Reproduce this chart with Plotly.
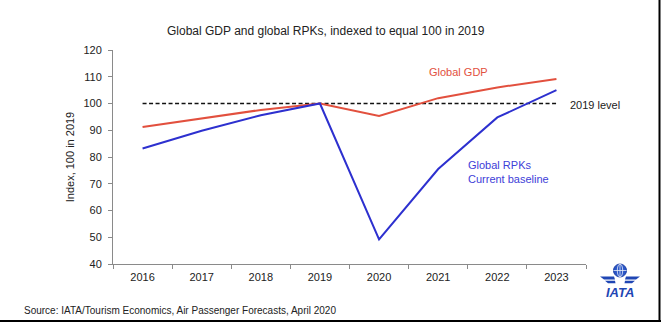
import plotly.graph_objects as go

years = ["2016", "2017", "2018", "2019", "2020", "2021", "2022", "2023"]
gdp = [91.2, 94.5, 97.6, 100.0, 95.3, 102.0, 106.0, 109.2]
rpk = [83.2, 89.8, 95.6, 100.0, 49.2, 75.5, 94.8, 105.0]
level_2019 = [100] * len(years)
y_ticks = [40, 50, 60, 70, 80, 90, 100, 110, 120]

W, H = 661, 323
L, R, T, B = 113, 586, 50, 264

def px(x):
    return (x - L) / (R - L)

def py(y):
    return (B - y) / (B - T)

RED = "#e2503e"
BLUE = "#2d30cf"
FONT = "Liberation Sans, Arial, sans-serif"

fig = go.Figure()
fig.add_trace(go.Scatter(x=years, y=level_2019, mode="lines",
                         line=dict(color="#111111", width=1.6, dash="4px,2.5px"),
                         hoverinfo="skip"))
fig.add_trace(go.Scatter(x=years, y=gdp, mode="lines",
                         line=dict(color=RED, width=2)))
fig.add_trace(go.Scatter(x=years, y=rpk, mode="lines",
                         line=dict(color=BLUE, width=2)))

shapes = []
# frame lines (right and bottom)
shapes.append(dict(type="line", xref="paper", yref="paper",
                   x0=px(659.5), x1=px(659.5), y0=py(0), y1=py(322),
                   line=dict(color="black", width=2)))
shapes.append(dict(type="line", xref="paper", yref="paper",
                   x0=px(0), x1=px(661), y0=py(321), y1=py(321),
                   line=dict(color="black", width=2)))
# IATA logo: globe
cx, cy, r = 620, 270.5, 6.5
shapes.append(dict(type="circle", xref="paper", yref="paper",
                   x0=px(cx - r), x1=px(cx + r), y0=py(cy + r), y1=py(cy - r),
                   fillcolor="#2a56c6", line=dict(color="#1d3fa6", width=1)))
shapes.append(dict(type="circle", xref="paper", yref="paper",
                   x0=px(cx - 2.7), x1=px(cx + 2.7), y0=py(cy + r), y1=py(cy - r),
                   line=dict(color="white", width=0.7)))
shapes.append(dict(type="line", xref="paper", yref="paper",
                   x0=px(cx - r), x1=px(cx + r), y0=py(cy), y1=py(cy),
                   line=dict(color="white", width=0.7)))
shapes.append(dict(type="line", xref="paper", yref="paper",
                   x0=px(cx), x1=px(cx), y0=py(cy - r), y1=py(cy + r),
                   line=dict(color="white", width=0.7)))

def poly(points):
    s = "M " + " L ".join(f"{px(a):.5f},{py(b):.5f}" for a, b in points) + " Z"
    return dict(type="path", xref="paper", yref="paper", path=s,
                fillcolor="#1f46b4", line=dict(width=0))

for sgn in (-1, 1):
    shapes.append(poly([(cx + sgn * 20, 276.5), (cx + sgn * 6, 276.5),
                        (cx + sgn * 5, 279.5), (cx + sgn * 16, 279.5)]))
    shapes.append(poly([(cx + sgn * 15, 280.8), (cx + sgn * 5, 280.8),
                        (cx + sgn * 4.5, 283.3), (cx + sgn * 12, 283.3)]))

annotations = [
    dict(text="Global GDP and global RPKs, indexed to equal 100 in 2019",
         xref="paper", yref="paper", x=px(326), y=py(31), showarrow=False,
         xanchor="center", yanchor="middle",
         font=dict(size=12, color="#222222", family=FONT)),
    dict(text="Global GDP", xref="paper", yref="paper", x=px(458), y=py(72),
         showarrow=False, xanchor="center", yanchor="middle",
         font=dict(size=11, color=RED, family=FONT)),
    dict(text="2019 level", xref="paper", yref="paper", x=px(568), y=py(105),
         showarrow=False, xanchor="left", yanchor="middle",
         font=dict(size=11, color="#222222", family=FONT)),
    dict(text="Global RPKs<br>Current baseline", xref="paper", yref="paper",
         x=px(466), y=py(172), showarrow=False, xanchor="left", yanchor="middle",
         align="left", font=dict(size=11, color="#4040d8", family=FONT)),
    dict(text="Source: IATA/Tourism Economics, Air Passenger Forecasts, April 2020",
         xref="paper", yref="paper", x=px(22), y=py(310), showarrow=False,
         xanchor="left", yanchor="middle",
         font=dict(size=10, color="#222222", family=FONT)),
    dict(text="<b><i>IATA</i></b>", xref="paper", yref="paper", x=px(620), y=py(292),
         showarrow=False, xanchor="center", yanchor="middle",
         font=dict(size=13, color="#1f46b4", family=FONT)),
]

fig.update_layout(
    width=W, height=H,
    margin=dict(l=L, r=W - R, t=T, b=H - B),
    paper_bgcolor="white", plot_bgcolor="white",
    showlegend=False,
    font=dict(family=FONT, size=11, color="#222222"),
    shapes=shapes, annotations=annotations,
    xaxis=dict(type="category", range=[-0.5, 7.5], showgrid=False, showline=True,
               linecolor="#8a8a8a", linewidth=1, ticks="outside",
               tickson="boundaries", ticklen=4, tickcolor="#8a8a8a",
               ticklabelstandoff=3,
               tickfont=dict(size=11, color="#222222"), zeroline=False),
    yaxis=dict(range=[40, 120], tickvals=y_ticks, showgrid=False,
               showline=True, linecolor="#8a8a8a", linewidth=1,
               ticks="outside", ticklen=4, tickcolor="#8a8a8a",
               ticklabelstandoff=4,
               tickfont=dict(size=11, color="#222222"), zeroline=False,
               title=dict(text="Index, 100 in 2019", standoff=6,
                          font=dict(size=11, color="#222222"))),
)

fig.write_html("out.html")
